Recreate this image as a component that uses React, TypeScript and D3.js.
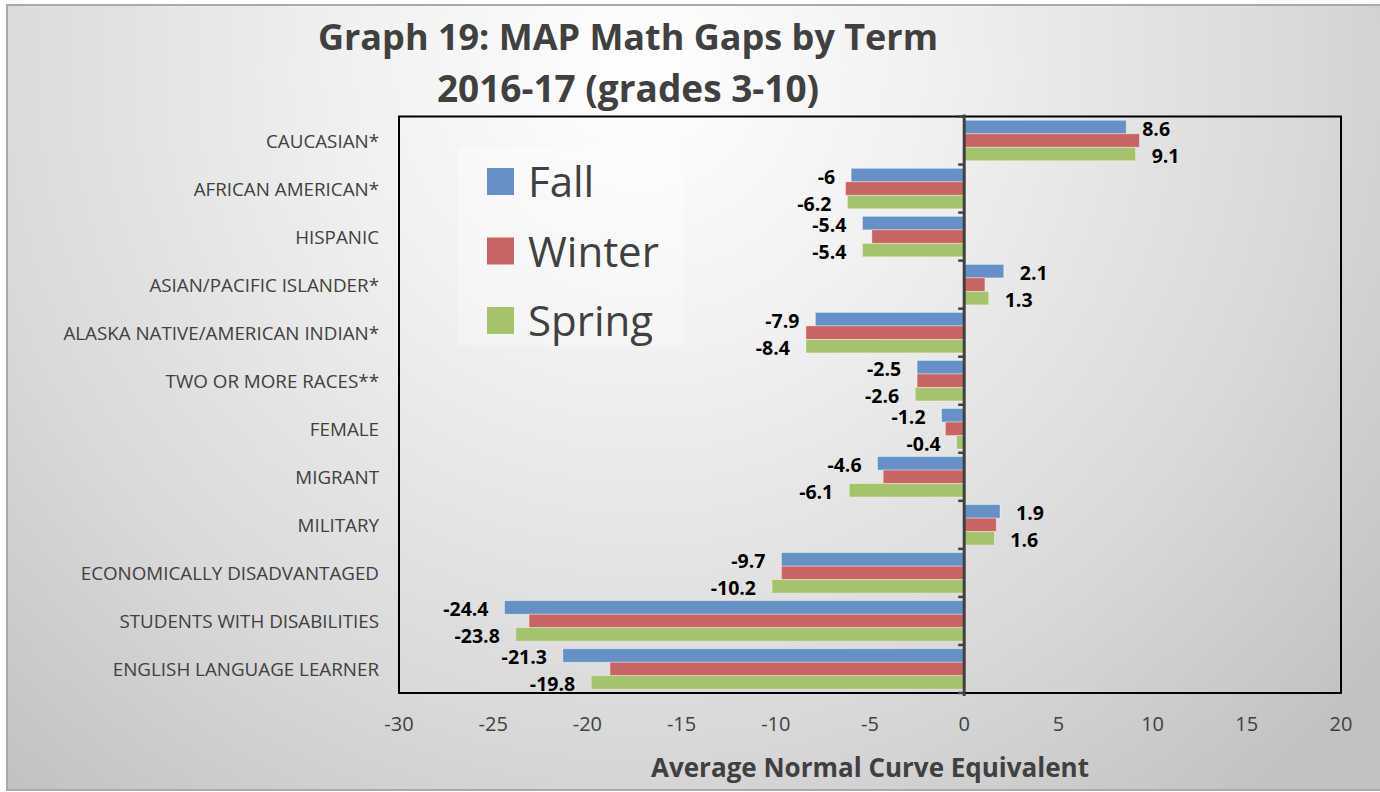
import React from "react";
import * as d3 from "d3";

const categories = [
  "CAUCASIAN*",
  "AFRICAN AMERICAN*",
  "HISPANIC",
  "ASIAN/PACIFIC ISLANDER*",
  "ALASKA NATIVE/AMERICAN INDIAN*",
  "TWO OR MORE RACES**",
  "FEMALE",
  "MIGRANT",
  "MILITARY",
  "ECONOMICALLY DISADVANTAGED",
  "STUDENTS WITH DISABILITIES",
  "ENGLISH LANGUAGE LEARNER",
];
const seriesNames = ["Fall", "Winter", "Spring"];
const fallValues = [8.6, -6, -5.4, 2.1, -7.9, -2.5, -1.2, -4.6, 1.9, -9.7, -24.4, -21.3];
const winterValues = [9.3, -6.3, -4.9, 1.1, -8.4, -2.5, -1.0, -4.3, 1.7, -9.7, -23.1, -18.8];
const springValues = [9.1, -6.2, -5.4, 1.3, -8.4, -2.6, -0.4, -6.1, 1.6, -10.2, -23.8, -19.8];
const xTickValues = [-30, -25, -20, -15, -10, -5, 0, 5, 10, 15, 20];
const colors = ["#6690c6", "#c76562", "#a5c36b"];
const titleLines = ["Graph 19: MAP Math Gaps by Term", "2016-17 (grades 3-10)"];
const xAxisTitle = "Average Normal Curve Equivalent";

const W = 1380;
const H = 792;
const FONT = "'Open Sans', sans-serif";

export default function App() {
  const plot = { left: 399, right: 1341, top: 116.5, bottom: 693 };
  const x = d3.scaleLinear().domain([-30, 20]).range([plot.left, plot.right]);
  const y = d3.scaleBand<string>().domain(categories).range([plot.top, plot.bottom]);
  const inner = d3
    .scaleBand<string>()
    .domain(seriesNames)
    .range([0, y.bandwidth()])
    .paddingInner(0)
    .paddingOuter(0.28);
  const allSeries = [fallValues, winterValues, springValues];
  const x0 = x(0);

  const labelFor = (v: number, cat: string, s: string, key: string) => {
    const yy = (y(cat) as number) + (inner(s) as number) + inner.bandwidth() / 2;
    const pos = v >= 0;
    return (
      <text
        key={key}
        x={pos ? x(v) + 16 : x(v) - 16}
        y={yy + 1}
        dominantBaseline="central"
        textAnchor={pos ? "start" : "end"}
        fontFamily={FONT}
        fontWeight={700}
        fontSize={19.5}
        fill="#000"
      >
        {String(v)}
      </text>
    );
  };

  const legendY = [168, 237.5, 307];

  return (
    <svg
      width={W}
      height={H}
      style={{ position: "absolute", left: 0, top: 0, display: "block" }}
    >
      <defs>
        <radialGradient id="bg" gradientUnits="userSpaceOnUse" cx={640} cy={70} r={950}>
          <stop offset="0" stopColor="#ffffff" />
          <stop offset="0.3" stopColor="#f1f1f1" />
          <stop offset="0.7" stopColor="#d9d9d9" />
          <stop offset="1" stopColor="#c2c2c2" />
        </radialGradient>
      </defs>
      <rect x={0} y={0} width={W} height={H} fill="#ffffff" />
      <rect x={7} y={5} width={W} height={785} fill="url(#bg)" stroke="#aaaaaa" strokeWidth={2} />

      {/* Title */}
      {titleLines.map((t, i) => (
        <text
          key={t}
          x={628}
          y={i === 0 ? 50 : 102}
          textAnchor="middle"
          fontFamily={FONT}
          fontWeight={700}
          fontSize={i === 0 ? 36 : 37}
          fill="#404040"
        >
          {t}
        </text>
      ))}

      {/* Plot border */}
      <rect
        x={plot.left}
        y={plot.top}
        width={plot.right - plot.left}
        height={plot.bottom - plot.top}
        fill="none"
        stroke="#000"
        strokeWidth={2}
      />

      {/* Legend */}
      <rect x={458} y={147} width={226} height={198} fill="#ffffff" fillOpacity={0.3} />
      {seriesNames.map((s, i) => (
        <g key={s}>
          <rect x={487} y={legendY[i]} width={27} height={27} fill={colors[i]} />
          <text
            x={528}
            y={legendY[i] + 29}
            fontFamily={FONT}
            fontSize={42}
            fill="#404040"
          >
            {s}
          </text>
        </g>
      ))}

      {/* Bars */}
      {categories.map((c, ci) =>
        seriesNames.map((s, si) => {
          const v = allSeries[si][ci];
          const yy = (y(c) as number) + (inner(s) as number);
          return (
            <rect
              key={c + s}
              x={Math.min(x(v), x0)}
              y={yy}
              width={Math.abs(x(v) - x0)}
              height={inner.bandwidth()}
              fill={colors[si]}
              stroke="#ffffff"
              strokeOpacity={0.45}
              strokeWidth={0.8}
            />
          );
        })
      )}

      {/* Zero axis with ticks */}
      <line x1={x0} x2={x0} y1={plot.top - 2} y2={plot.bottom + 3} stroke="#404040" strokeWidth={3} />
      {d3.range(categories.length + 1).map((i) => {
        const yy = plot.top + i * y.step();
        return (
          <line key={i} x1={x0 - 6} x2={x0} y1={yy} y2={yy} stroke="#404040" strokeWidth={2.5} />
        );
      })}

      {/* Data labels: Fall and Spring */}
      {categories.map((c, ci) => [
        labelFor(fallValues[ci], c, "Fall", "f" + ci),
        labelFor(springValues[ci], c, "Spring", "s" + ci),
      ])}

      {/* Category labels */}
      {categories.map((c) => (
        <text
          key={c}
          x={379}
          y={(y(c) as number) + y.bandwidth() / 2}
          dominantBaseline="central"
          textAnchor="end"
          fontFamily={FONT}
          fontSize={18.8}
          fill="#404040"
        >
          {c}
        </text>
      ))}

      {/* X tick labels */}
      {xTickValues.map((t) => (
        <text
          key={t}
          x={x(t)}
          y={731}
          textAnchor="middle"
          fontFamily={FONT}
          fontSize={20}
          fill="#404040"
        >
          {String(t)}
        </text>
      ))}

      {/* X axis title */}
      <text
        x={(plot.left + plot.right) / 2}
        y={777}
        textAnchor="middle"
        fontFamily={FONT}
        fontWeight={700}
        fontSize={26}
        fill="#404040"
      >
        {xAxisTitle}
      </text>
    </svg>
  );
}
